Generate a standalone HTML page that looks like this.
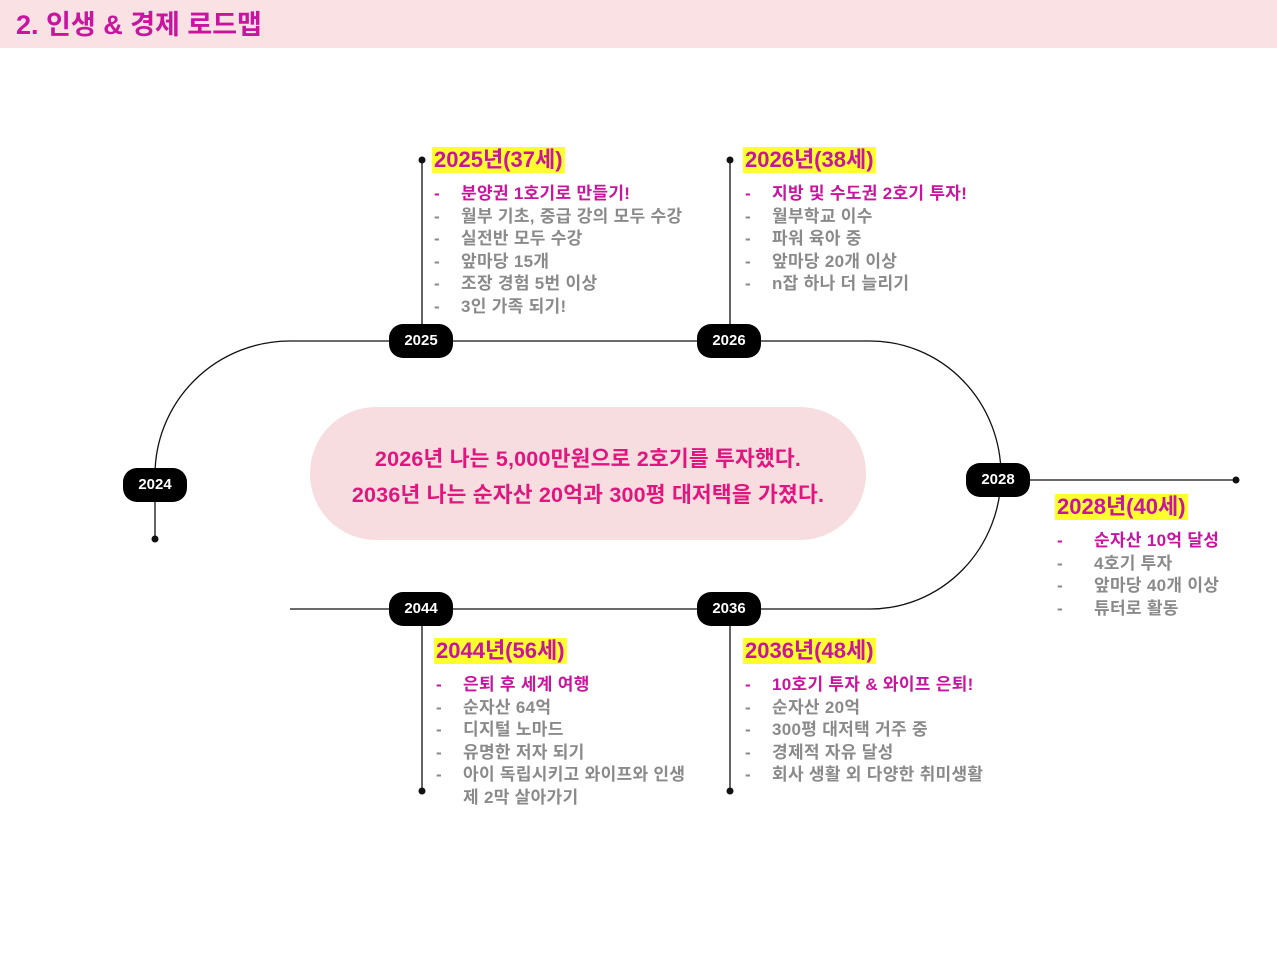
<!DOCTYPE html>
<html><head><meta charset="utf-8"><style>
body{margin:0;width:1277px;height:958px;background:#fff;position:relative;overflow:hidden;font-family:"Liberation Sans","Noto Sans CJK KR",sans-serif}
.hdr{position:absolute;left:0;top:0;width:1277px;height:48px;background:#f9e1e4}
.ttl{position:absolute;left:16px;top:3px;font-size:27px;font-weight:bold;color:#c8149e;letter-spacing:0px}
.pill{position:absolute;width:64px;height:34px;margin-left:-32px;margin-top:-17px;background:#000;color:#fff;border-radius:14px;font-weight:bold;font-size:15px;text-align:center;line-height:34px}
.blk{position:absolute;font-weight:bold}
.h{display:inline-block;background:#ffff2e;color:#c8149e;font-size:22px;line-height:26px;padding:0 2px;letter-spacing:0px}
.it{font-size:17px;line-height:22.5px;color:#8a8a8a;white-space:nowrap;position:relative;padding-left:29px;letter-spacing:0.3px}
.it:before{content:"-";position:absolute;left:2px}
.p{color:#c8149e}
.c{position:absolute;left:310px;top:407px;width:556px;height:133px;background:#f7dde0;border-radius:66px;text-align:center;color:#e0157e;font-weight:bold;font-size:21.5px;line-height:36px;padding-top:34px;box-sizing:border-box;letter-spacing:0.2px}
</style></head><body>
<div class="hdr"></div><div class="ttl">2. 인생 &amp; 경제 로드맵</div>
<svg style="position:absolute;left:0;top:0" width="1277" height="958">
<g fill="none" stroke="#111" stroke-width="1.3">
<path d="M155,539 L155,475 A135,134 0 0 1 290,341 L870,341 A131,134 0 0 1 870,609 L290,609"/>
<path d="M1000,480 L1236,480"/>
<path d="M422,160 V325 M730,160 V325 M422,625 V791 M730,625 V791"/>
</g>
<g fill="#111"><circle cx="155" cy="539" r="3.5"/><circle cx="1236" cy="480" r="3.5"/><circle cx="422" cy="160" r="3.5"/><circle cx="730" cy="160" r="3.5"/><circle cx="422" cy="791" r="3.5"/><circle cx="730" cy="791" r="3.5"/></g>
</svg>
<div class="pill" style="left:155px;top:485px">2024</div>
<div class="pill" style="left:421px;top:341px">2025</div>
<div class="pill" style="left:729px;top:341px">2026</div>
<div class="pill" style="left:998px;top:480px">2028</div>
<div class="pill" style="left:421px;top:609px">2044</div>
<div class="pill" style="left:729px;top:609px">2036</div>
<div class="c">2026년 나는 5,000만원으로 2호기를 투자했다.<br>2036년 나는 순자산 20억과 300평 대저택을 가졌다.</div>

<div class="blk" style="left:432px;top:147px"><div class="h">2025년(37세)</div><div style="height:10px"></div>
<div class="it p">분양권 1호기로 만들기!</div><div class="it">월부 기초, 중급 강의 모두 수강</div><div class="it">실전반 모두 수강</div><div class="it">앞마당 15개</div><div class="it">조장 경험 5번 이상</div><div class="it">3인 가족 되기!</div></div>

<div class="blk" style="left:743px;top:147px"><div class="h">2026년(38세)</div><div style="height:10px"></div>
<div class="it p">지방 및 수도권 2호기 투자!</div><div class="it">월부학교 이수</div><div class="it">파워 육아 중</div><div class="it">앞마당 20개 이상</div><div class="it">n잡 하나 더 늘리기</div></div>

<div class="blk" style="left:1055px;top:494px"><div class="h">2028년(40세)</div><div style="height:10px"></div>
<div class="it p" style="padding-left:39px">순자산 10억 달성</div><div class="it" style="padding-left:39px">4호기 투자</div><div class="it" style="padding-left:39px">앞마당 40개 이상</div><div class="it" style="padding-left:39px">튜터로 활동</div></div>

<div class="blk" style="left:434px;top:638px"><div class="h">2044년(56세)</div><div style="height:10px"></div>
<div class="it p">은퇴 후 세계 여행</div><div class="it">순자산 64억</div><div class="it">디지털 노마드</div><div class="it">유명한 저자 되기</div><div class="it">아이 독립시키고 와이프와 인생<br>제 2막 살아가기</div></div>

<div class="blk" style="left:743px;top:638px"><div class="h">2036년(48세)</div><div style="height:10px"></div>
<div class="it p">10호기 투자 &amp; 와이프 은퇴!</div><div class="it">순자산 20억</div><div class="it">300평 대저택 거주 중</div><div class="it">경제적 자유 달성</div><div class="it">회사 생활 외 다양한 취미생활</div></div>
</body></html>
